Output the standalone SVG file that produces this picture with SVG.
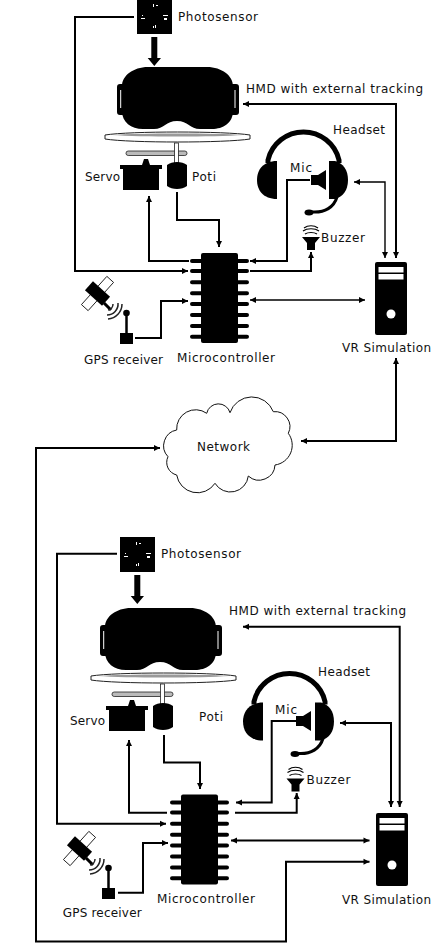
<svg xmlns="http://www.w3.org/2000/svg" width="436" height="946" viewBox="0 0 436 946">
<style>
text{font-family:"DejaVu Sans",sans-serif;font-size:12px;fill:#111}
.c{fill:none;stroke:#000;stroke-width:2}
.t{fill:none;stroke:#000;stroke-width:1.4}
.w{fill:#fff}
</style>
<defs>
<marker id="a" markerUnits="userSpaceOnUse" markerWidth="8" markerHeight="8" refX="7" refY="4" orient="auto-start-reverse"><path d="M1 1L7 4L1 7Z"/></marker>
<g id="photo"><rect x="137" y="-1" width="35" height="35"/><path class="w" d="M153 4h1v3h-1zM156 5h2v1h-2zM142 15h1v1h-1zM141 18h4v1h-4zM163 15h5v1h-5zM164 18h3v2h-3zM153 26h1v2h-1zM155 25h1v3h-1z"/></g>
<g id="hmd"><path d="M148 67H207C222 67 233 76 233 86V111C233 123 223 129 212 129H200C190 129 188 121 177 121C166 121 164 129 154 129H143C131 129 122 122 122 111V86C122 76 133 67 148 67Z"/><path d="M123 84H120C118 84 117 85 117 87V112C117 114 118 115 120 115H124ZM232 84H236C238 84 239 85 239 87V112C239 114 238 115 236 115H232Z"/><path d="M120.700 90V108M235 90V108" stroke="#fff" stroke-width="1"/></g>
<g id="rig">
<path d="M105 135C130 131 225 131 250 135V139C225 143 130 143 105 139Z" fill="#fff" stroke="#222"/><path d="M112 135C140 133 215 133 243 135C215 137 140 137 112 135Z" fill="#999"/>
<rect x="126" y="151" width="61" height="4.500" rx="2.200" fill="#bbb" stroke="#222" stroke-width=".8"/>
<rect x="174.500" y="143" width="4" height="22" fill="#fff" stroke="#222" stroke-width=".8"/>
<path d="M123 190V169H120V165H142L144 159H148L150 165H162V169H159V190Z"/>
<path d="M167 165C172 161 182 161 187 165V186C182 190 172 190 167 186Z"/>
</g>
<g id="headset"><path d="M268 163V160A36.500 36.500 0 0 1 339 160V163" fill="none" stroke="#000" stroke-width="5"/><path d="M277 161V199C263 199 257 190 257 180C257 170 263 161 277 161Z"/><path d="M329 161V199L335 199C343 197 348 190 348 180C348 170 343 163 335 161Z"/><path d="M337 197C334 207 325 213 312 212" fill="none" stroke="#000" stroke-width="3"/><ellipse cx="309" cy="212.500" rx="4.500" ry="3"/></g>
<path id="speaker" d="M311 175H318L326 170V190L318 185H311Z"/>
<g id="buzzer"><path d="M302 237H320L315 243V250H307V243Z"/><path d="M305 234C308 232 314 232 317 234M303 231C307 228 315 228 319 231M304 228C308 225 314 225 318 228" fill="none" stroke="#000" stroke-width="1.200"/></g>
<g id="chip"><rect x="201" y="253" width="37" height="90" rx="2"/><path d="M192 261H247M192 271H247M192 282.300H247M192 293.300H247M192 304H247M192 315H247M192 326H247M192 336.700H247" stroke="#000" stroke-width="4" stroke-linecap="round"/></g>
<g id="gps"><g transform="rotate(-48 97.500 293.500)"><rect x="78.500" y="289" width="38" height="9" class="w" stroke="#000" stroke-width=".8"/><rect x="91.500" y="282" width="12" height="23"/></g><path d="M104 303L111 310" stroke="#000" stroke-width="3"/><path d="M108 310A6 6 0 0 0 113 304M107 315A11 11 0 0 0 118 303M108 319A15 15 0 0 0 122 304" fill="none" stroke="#222" stroke-width="1.500"/><circle cx="126.500" cy="313" r="3.300"/><path d="M126.500 313V334" stroke="#000" stroke-width="2.500"/><rect x="120" y="333" width="13" height="11"/></g>
<g id="pc"><rect x="375" y="262" width="32" height="73" rx="2"/><rect x="378.500" y="267" width="25" height="5.500" class="w"/><rect x="378.500" y="274" width="25" height="5.500" class="w"/><circle cx="391" cy="314" r="4.500" class="w"/></g>
</defs>

<g id="connectors">
<path class="c" d="M134 17H75V271H188" marker-end="url(#a)"/>
<path class="c" d="M189 261H149V196" marker-end="url(#a)"/>
<path class="c" d="M177 192V220H219V247" marker-end="url(#a)"/>
<path class="c" d="M310 180H287V261H250" marker-end="url(#a)"/>
<path class="c" d="M250 271H311V252" marker-end="url(#a)"/>
<path class="t" d="M250 300H365" marker-start="url(#a)" marker-end="url(#a)"/>
<path class="t" d="M354 182H385V258" marker-start="url(#a)" marker-end="url(#a)"/>
<path class="c" d="M243 104H396V258" marker-start="url(#a)" marker-end="url(#a)"/>
<path class="c" d="M135 338H161V301H188" marker-end="url(#a)"/>
<path class="c" d="M396 358V441H301" marker-start="url(#a)" marker-end="url(#a)"/>
<path class="c" d="M160 448H36V941.500H286V861.700H369.500" marker-start="url(#a)" marker-end="url(#a)"/>
<path class="c" d="M117 553.700H57V823.700H166" marker-end="url(#a)"/>
<path class="c" d="M167 812.700H129V740" marker-end="url(#a)"/>
<path class="c" d="M164 735V762.500H200V789" marker-end="url(#a)"/>
<path class="c" d="M296 721H271.700V802.500H236" marker-end="url(#a)"/>
<path class="c" d="M235 812.700H296.700V793" marker-end="url(#a)"/>
<path class="c" d="M231 840.500H369.500" marker-start="url(#a)" marker-end="url(#a)"/>
<path class="c" d="M340 723H391V807" marker-start="url(#a)" marker-end="url(#a)"/>
<path class="c" d="M243 626.700H399.700V807" marker-start="url(#a)" marker-end="url(#a)"/>
<path class="c" d="M118 892.700H143V843H168" marker-end="url(#a)"/>
<path d="M151.300 37H157.300V58H161L154.300 66L147.700 58H151.300Z"/>
<path d="M134.300 575H140.300V596H144L137.300 604L130.700 596H134.300Z"/>
</g>

<g id="photosensor-1"><use href="#photo"/><text x="178" y="21" textLength="80">Photosensor</text></g>
<g id="hmd-1"><use href="#hmd"/><text x="246" y="93" textLength="177">HMD with external tracking</text></g>
<g id="rig-1"><use href="#rig"/><text x="85" y="181" textLength="35">Servo</text><text x="192" y="181" textLength="24">Poti</text></g>
<g id="headset-1"><use href="#headset"/><text x="333" y="134" textLength="52">Headset</text></g>
<g id="mic-1"><use href="#speaker"/><text x="290" y="172" textLength="22">Mic</text></g>
<g id="buzzer-1"><use href="#buzzer"/><text x="321" y="242" textLength="44">Buzzer</text></g>
<g id="microcontroller-1"><use href="#chip"/><text x="177" y="362" textLength="98">Microcontroller</text></g>
<g id="gps-1"><use href="#gps"/><text x="84" y="364" textLength="79">GPS receiver</text></g>
<g id="vr-1"><use href="#pc"/><text x="342" y="352" textLength="89">VR Simulation</text></g>
<g id="network"><path d="M176.700 430A19 19 0 0 1 206.700 413.300A12 12 0 0 1 230 412.700A23 23 0 0 1 273.300 411.700A15 15 0 0 1 288.300 433.300A20 20 0 0 1 275 465A16 16 0 0 1 248.300 476A18 18 0 0 1 215 483.300A21 21 0 0 1 176.700 475A13 13 0 0 1 168 456.700A16 16 0 0 1 176.700 430Z" fill="#fff" stroke="#111" stroke-width="1"/><text x="197" y="451" textLength="53">Network</text></g>

<g id="photosensor-2"><use href="#photo" x="-17" y="538"/><text x="161" y="558" textLength="80">Photosensor</text></g>
<g id="hmd-2"><use href="#hmd" x="-17" y="541"/><text x="229" y="615" textLength="177">HMD with external tracking</text></g>
<g id="rig-2"><use href="#rig" x="-14" y="541"/><text x="70" y="725" textLength="35">Servo</text><text x="199" y="721" textLength="24">Poti</text></g>
<g id="headset-2"><use href="#headset" x="-14" y="541.500"/><text x="318" y="676" textLength="52">Headset</text></g>
<g id="mic-2"><use href="#speaker" x="-15" y="541"/><text x="275" y="714" textLength="22">Mic</text></g>
<g id="buzzer-2"><use href="#buzzer" x="-15.500" y="541.500"/><text x="306.500" y="784" textLength="44">Buzzer</text></g>
<g id="microcontroller-2"><use href="#chip" x="-20" y="541.500"/><text x="157" y="903" textLength="98">Microcontroller</text></g>
<g id="gps-2"><use href="#gps" x="-18" y="555"/><text x="62.700" y="917" textLength="79">GPS receiver</text></g>
<g id="vr-2"><use href="#pc" x="1" y="551"/><text x="342" y="904" textLength="89">VR Simulation</text></g>
</svg>
